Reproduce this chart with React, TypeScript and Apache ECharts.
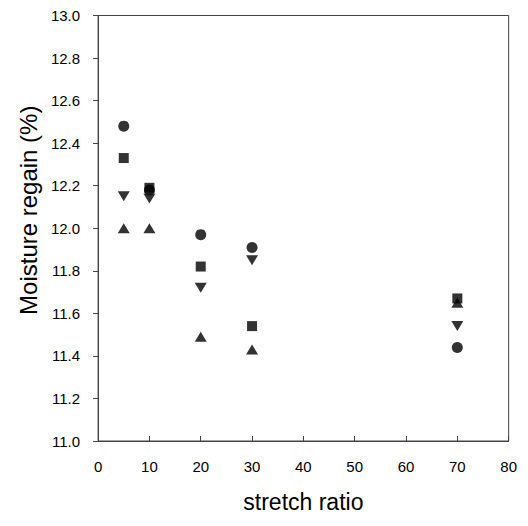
import React, { useEffect, useRef } from "react";
import * as echarts from "echarts";

const stretchRatio = [5, 10, 20, 30, 70];
const circleValues = [12.48, 12.18, 11.97, 11.91, 11.44];
const squareValues = [12.33, 12.19, 11.82, 11.54, 11.67];
const downTriValues = [12.15, 12.14, 11.72, 11.85, 11.54];
const upTriValues = [12.0, 12.0, 11.49, 11.43, 11.65];

const FONT = "'Liberation Sans', Arial, sans-serif";

export default function App() {
  const ref = useRef<HTMLDivElement>(null);
  useEffect(() => {
    if (!ref.current) return;
    const chart = echarts.init(ref.current, undefined, { renderer: "svg" });
    const mk = (vals: number[]) => stretchRatio.map((x, i) => [x, vals[i]]);
    const base = {
      type: "scatter" as const,
      itemStyle: { color: "#000" },
      z: 5,
    };
    chart.setOption({
      animation: false,
      backgroundColor: "#fff",
      textStyle: { fontFamily: FONT },
      grid: {
        left: 83,
        right: 5,
        top: 7,
        bottom: 65,
        show: true,
        borderColor: "#444",
        borderWidth: 1,
        backgroundColor: "transparent",
      },
      xAxis: {
        type: "value",
        min: 0,
        max: 80,
        interval: 10,
        name: "stretch ratio",
        nameLocation: "middle",
        nameGap: 49,
        nameTextStyle: { fontSize: 23, color: "#000", fontFamily: FONT },
        axisLine: { show: true, lineStyle: { color: "#444", width: 1 } },
        axisTick: { show: true, inside: true, length: 5, lineStyle: { color: "#444" } },
        axisLabel: { fontSize: 15, color: "#000", margin: 18, fontFamily: FONT },
        splitLine: { show: false },
      },
      yAxis: {
        type: "value",
        min: 11,
        max: 13,
        interval: 0.2,
        name: "Moisture regain (%)",
        nameLocation: "middle",
        nameGap: 56,
        nameRotate: 90,
        nameTextStyle: {
          fontSize: 24,
          color: "#000",
          fontFamily: FONT,
          padding: [0, 0, 0, 36],
        },
        axisLine: { show: true, lineStyle: { color: "#444", width: 1 } },
        axisTick: { show: true, inside: false, length: 5, lineStyle: { color: "#444" } },
        axisLabel: {
          fontSize: 15,
          color: "#000",
          margin: 18,
          fontFamily: FONT,
          formatter: (v: number) => v.toFixed(1),
        },
        splitLine: { show: false },
      },
      series: [
        { ...base, name: "circle", symbol: "circle", symbolSize: 11, data: mk(circleValues) },
        { ...base, name: "square", symbol: "rect", symbolSize: 10, data: mk(squareValues) },
        {
          ...base,
          name: "down triangle",
          symbol: "triangle",
          symbolRotate: 180,
          symbolSize: [12, 10],
          data: mk(downTriValues),
        },
        {
          ...base,
          name: "up triangle",
          symbol: "triangle",
          symbolSize: [12, 10],
          data: mk(upTriValues),
        },
      ],
    });
    return () => chart.dispose();
  }, []);
  return <div ref={ref} style={{ width: 512, height: 510 }} />;
}
